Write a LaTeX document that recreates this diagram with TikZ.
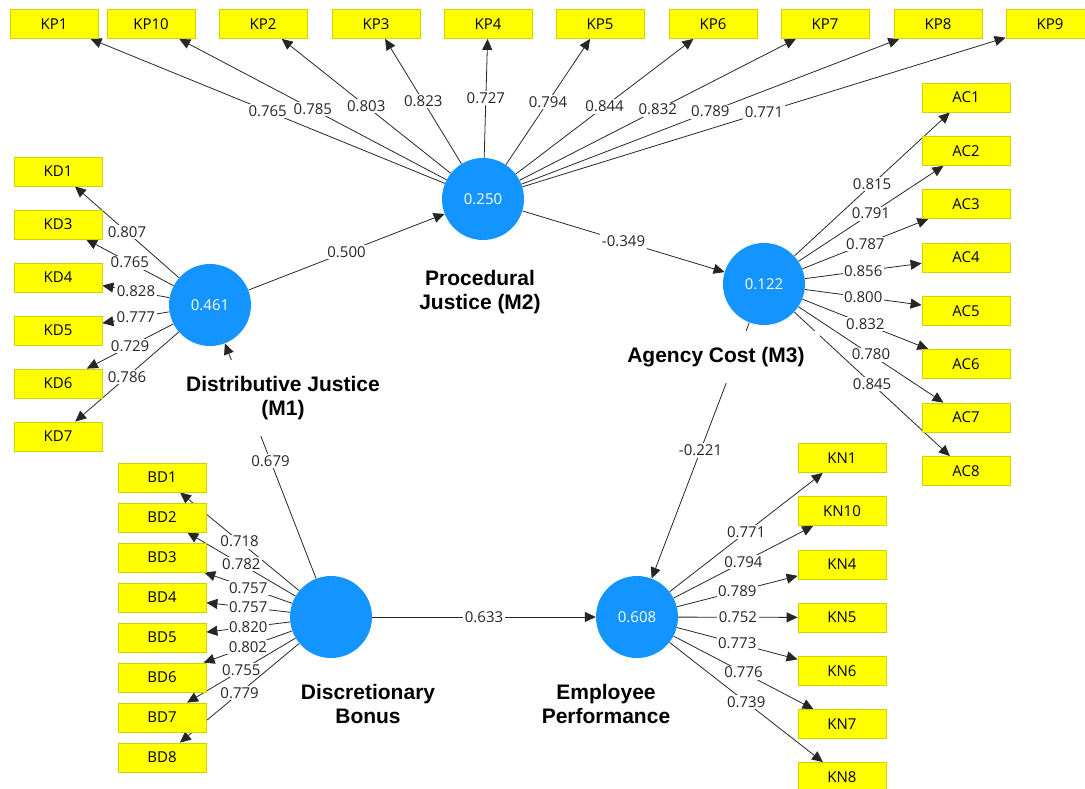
\documentclass[tikz,border=0pt]{standalone}
\usepackage{fontspec}
\setmainfont{Open Sans}
\newfontfamily\namefont{Liberation Sans}
\usetikzlibrary{arrows.meta}
\pgfdeclarelayer{background}
\pgfsetlayers{background,main}
\definecolor{lvblue}{RGB}{20,148,255}
\definecolor{mvyellow}{RGB}{255,255,0}
\definecolor{mvborder}{RGB}{210,210,0}

\begin{document}
\begin{tikzpicture}[x=1pt,y=-1pt,
    latent/.style={circle,fill=lvblue,minimum size=82pt,inner sep=0pt,text=white,font=\fontsize{15}{18}\selectfont},
    indicator/.style={rectangle,fill=mvyellow,draw=mvborder,line width=0.8pt,minimum width=88pt,minimum height=29pt,inner sep=0pt,font=\fontsize{15}{18}\selectfont},
    construct/.style={fill=white,inner xsep=15pt,inner ysep=16pt,align=center,font=\namefont\bfseries\fontsize{21}{24}\selectfont},
    loading/.style={fill=white,inner sep=1.5pt,font=\fontsize{15}{18}\selectfont}]

  \useasboundingbox (0,0) rectangle (1085,789);
  \clip (0,0) rectangle (1085,789);

  % latent variables
  \begin{scope}[every node/.style={latent}]
    \node (pj) at (483,199) {0.250};
    \node (dj) at (210,305) {0.461};
    \node (ac) at (764,284) {0.122};
    \node (db) at (331,617) {};
    \node (ep) at (637,617) {0.608};
  \end{scope}

  % indicators
  \begin{scope}[every node/.style={indicator}]
    \node (kp1)  at (54,24)   {KP1};
    \node (kp10) at (151,24)  {KP10};
    \node (kp2)  at (263,24)  {KP2};
    \node (kp3)  at (376,24)  {KP3};
    \node (kp4)  at (488,24)  {KP4};
    \node (kp5)  at (600,24)  {KP5};
    \node (kp6)  at (713,24)  {KP6};
    \node (kp7)  at (825,24)  {KP7};
    \node (kp8)  at (938,24)  {KP8};
    \node (kp9)  at (1050,24) {KP9};

    \node (kd1) at (58,171.5) {KD1};
    \node (kd3) at (58,224.5) {KD3};
    \node (kd4) at (58,277.5) {KD4};
    \node (kd5) at (58,330.5) {KD5};
    \node (kd6) at (58,383.5) {KD6};
    \node (kd7) at (58,436.5) {KD7};

    \node (ac1) at (966,97.5)  {AC1};
    \node (ac2) at (966,151)   {AC2};
    \node (ac3) at (966,204)   {AC3};
    \node (ac4) at (966,257.5) {AC4};
    \node (ac5) at (966,311)   {AC5};
    \node (ac6) at (966,364)   {AC6};
    \node (ac7) at (966,417.5) {AC7};
    \node (ac8) at (966,471)   {AC8};

    \node (bd1) at (162,477.5) {BD1};
    \node (bd2) at (162,517.5) {BD2};
    \node (bd3) at (162,557.5) {BD3};
    \node (bd4) at (162,597.5) {BD4};
    \node (bd5) at (162,637.5) {BD5};
    \node (bd6) at (162,677.5) {BD6};
    \node (bd7) at (162,717.5) {BD7};
    \node (bd8) at (162,757.5) {BD8};

    \node (kn1)  at (842,458)   {KN1};
    \node (kn10) at (842,511)   {KN10};
    \node (kn4)  at (842,564.5) {KN4};
    \node (kn5)  at (842,617.5) {KN5};
    \node (kn6)  at (842,671)   {KN6};
    \node (kn7)  at (842,724)   {KN7};
    \node (kn8)  at (842,777)   {KN8};
  \end{scope}

  \begin{pgfonlayer}{background}
  \begin{scope}[every node/.style={loading}]

    \begin{scope}[every edge/.style={draw,black!85,line width=0.8pt,-{Triangle[length=11pt,width=10pt]}}]
      % inner model
      \path (dj) edge node {0.500} (pj);
      \path (pj) edge node {-0.349} (ac);
      \path (ac) edge node {-0.221} (ep);
      \path (db) edge node {0.633} (ep);
      \path (db) edge node {0.679} (dj);

      % outer model
      \path (pj) edge node {0.765} (kp1);
      \path (pj) edge node {0.785} (kp10);
      \path (pj) edge node {0.803} (kp2);
      \path (pj) edge node {0.823} (kp3);
      \path (pj) edge node {0.727} (kp4);
      \path (pj) edge node {0.794} (kp5);
      \path (pj) edge node {0.844} (kp6);
      \path (pj) edge node {0.832} (kp7);
      \path (pj) edge node {0.789} (kp8);
      \path (pj) edge node {0.771} (kp9);

      \path (dj) edge node {0.807} (kd1);
      \path (dj) edge node {0.765} (kd3);
      \path (dj) edge node {0.828} (kd4);
      \path (dj) edge node {0.777} (kd5);
      \path (dj) edge node {0.729} (kd6);
      \path (dj) edge node {0.786} (kd7);

      \path (ac) edge node {0.815} (ac1);
      \path (ac) edge node {0.791} (ac2);
      \path (ac) edge node {0.787} (ac3);
      \path (ac) edge node {0.856} (ac4);
      \path (ac) edge node {0.800} (ac5);
      \path (ac) edge node {0.832} (ac6);
      \path (ac) edge node {0.780} (ac7);
      \path (ac) edge node {0.845} (ac8);

      \path (db) edge node {0.718} (bd1);
      \path (db) edge node {0.782} (bd2);
      \path (db) edge node {0.757} (bd3);
      \path (db) edge node {0.757} (bd4);
      \path (db) edge node {0.820} (bd5);
      \path (db) edge node {0.802} (bd6);
      \path (db) edge node {0.755} (bd7);
      \path (db) edge node {0.779} (bd8);

      \path (ep) edge node {0.771} (kn1);
      \path (ep) edge node {0.794} (kn10);
      \path (ep) edge node {0.789} (kn4);
      \path (ep) edge node {0.752} (kn5);
      \path (ep) edge node {0.773} (kn6);
      \path (ep) edge node {0.776} (kn7);
      \path (ep) edge node {0.739} (kn8);
    \end{scope}
  \end{scope}
  \end{pgfonlayer}

  % construct names
  \begin{scope}[every node/.style={construct}]
    \node (pjname) at (480,292) {Procedural\\Justice (M2)};
    \node (djname) at (283,398) {Distributive Justice\\(M1)};
    \node (acname) at (716,357) {Agency Cost (M3)};
    \node (dbname) at (368,704) {Discretionary\\Bonus};
    \node (epname) at (606,704) {Employee\\Performance};
  \end{scope}

\end{tikzpicture}
\end{document}
